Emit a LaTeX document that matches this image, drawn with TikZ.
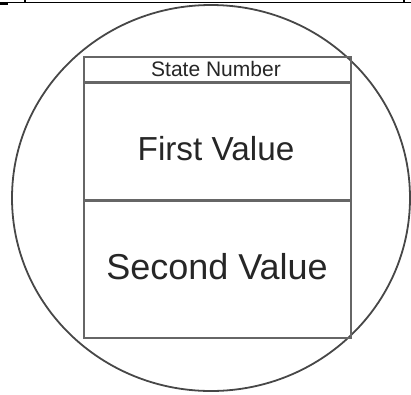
\documentclass[tikz,border=0pt]{standalone}
\usepackage{fontspec}
\setmainfont{Liberation Sans}
\usetikzlibrary{positioning,shapes.geometric}
\tikzset{
  rim/.style={draw=black!72, line width=1.8pt, ellipse, minimum width=398pt, minimum height=386pt, inner sep=0pt},
  cell/.style={draw=black!60, line width=1.6pt, minimum width=267pt, inner sep=0pt},
  label/.style={anchor=base, inner sep=0pt, text=black!85},
  rule/.style={draw=black, line width=1.3pt}
}

\begin{document}
\begin{tikzpicture}[x=1pt,y=-1pt]
          \useasboundingbox (0,0) rectangle (411,394);
          % top border
          \coordinate (tl) at (0,2.5);
          \coordinate (tr) at (411,2.5);
          \draw[rule] (tl) -- (tr);
          \draw[rule] (25,0) -- (25,3);
          \draw[rule] (404,0) -- (404,3);
          \draw[line width=2pt] (0,4) -- (8,4);
          % state
          \node[rim] (state) at (211,198) {};
          \node[cell, minimum height=25pt] (hdr) at (217.5,69.5) {};
          \node[cell, minimum height=116pt, below=0pt of hdr] (first) {};
          \node[cell, minimum height=137pt, below=0pt of first] (second) {};
          \node[label, font=\fontsize{21}{23}\selectfont] (num) at (216,76) {State Number};
          \node[label, font=\fontsize{33.3}{36}\selectfont] (val1) at (216,160) {First Value};
          \node[label, font=\fontsize{36}{39}\selectfont] (val2) at (217,279) {Second Value};
        \end{tikzpicture}
\end{document}
